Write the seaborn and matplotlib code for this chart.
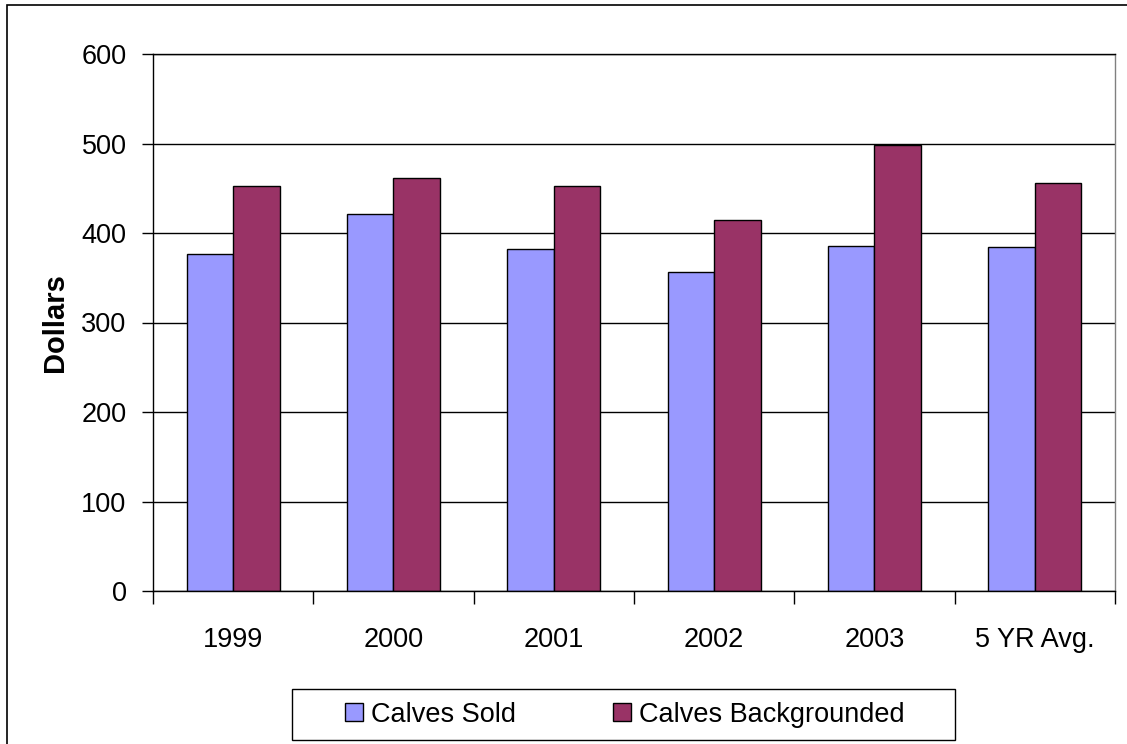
import numpy as np
import pandas as pd
import matplotlib
matplotlib.use("Agg")
import matplotlib.pyplot as plt
from matplotlib.patches import Rectangle
import seaborn as sns

sns.set_theme(style="white")
plt.rcParams['font.family'] = ['Liberation Sans', 'DejaVu Sans']
plt.rcParams['text.color'] = 'black'

categories = ['1999', '2000', '2001', '2002', '2003', '5 YR Avg.']
calves_sold = [377, 421, 382, 356, 386, 384]
calves_bg = [452, 461, 452, 415, 498, 456]
series = ['Calves Sold', 'Calves Backgrounded']
colors = ['#9999FF', '#993366']

df = pd.DataFrame({
    'year': categories * 2,
    'value': calves_sold + calves_bg,
    'series': [series[0]] * len(categories) + [series[1]] * len(categories),
})

W, H = 1127, 744
fig = plt.figure(figsize=(W / 100, H / 100), dpi=100)
ax = fig.add_axes([153 / W, 1 - 591 / H, (1115 - 153) / W, (591 - 54) / H])

sns.barplot(data=df, x='year', y='value', hue='series', order=categories,
            hue_order=series, palette=colors, width=0.58, ax=ax,
            edgecolor='black', linewidth=1, saturation=1, legend=False)

ax.set_xlim(-0.5, len(categories) - 0.5)
ax.set_ylim(0, 600)
ax.set_yticks(range(0, 601, 100))
ax.yaxis.grid(True, color='black', linewidth=1)
ax.set_axisbelow(True)

# category labels at centers, tick marks at boundaries
ax.set_xticks(range(len(categories)))
ax.set_xticklabels(categories)
ax.set_xticks(np.arange(-0.5, len(categories)), minor=True)
ax.tick_params(axis='x', which='major', length=0, pad=26, labelsize=19.5, labelcolor='black')
ax.tick_params(axis='x', which='minor', length=9, width=1, direction='out', bottom=True, color='black')
ax.tick_params(axis='y', length=8, width=1, direction='out', left=True, pad=11, labelsize=19.5,
               color='black', labelcolor='black')

ax.set_xlabel('')
ax.set_ylabel('Dollars', fontsize=21, fontweight='bold', labelpad=9, color='black')

for side in ['left', 'bottom', 'top']:
    ax.spines[side].set_color('black')
    ax.spines[side].set_linewidth(1)
ax.spines['right'].set_color('#808080')
ax.spines['right'].set_linewidth(1)

# legend
handles = [Rectangle((0, 0), 1, 1, facecolor=c, edgecolor='black', linewidth=1) for c in colors]
leg = fig.legend(handles, series, loc='center', bbox_to_anchor=(625 / W, 1 - 714.5 / H),
                 ncol=2, frameon=False, fontsize=19.5, handlelength=0.66, handleheight=0.66,
                 handletextpad=0.3, columnspacing=3.6)
fig.patches.append(Rectangle((292 / W, 1 - 740 / H), (955 - 292) / W, 51 / H,
                             transform=fig.transFigure, fill=False, edgecolor='black', linewidth=1))

# outer chart border (cut off at right and bottom)
fig.patches.append(Rectangle((7 / W, -0.05), 1.1, 1 - 5 / H + 0.05,
                             transform=fig.transFigure, fill=False, edgecolor='black', linewidth=1.2))

fig.savefig('out.png', dpi=100)
